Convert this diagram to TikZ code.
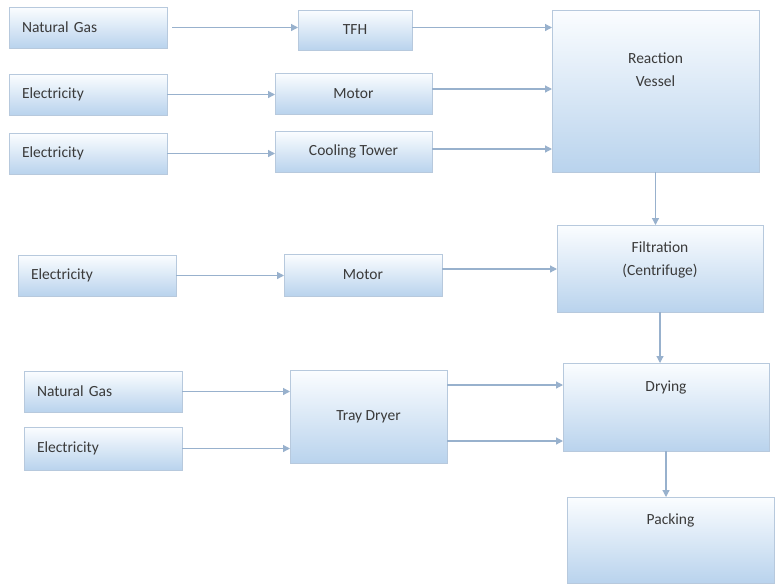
\documentclass[tikz,border=0pt]{standalone}
\usepackage{fontspec}
\setmainfont{Carlito}
\usetikzlibrary{arrows.meta,calc}
\definecolor{boxline}{HTML}{B7C9DD}
\definecolor{boxtop}{HTML}{FBFDFF}
\definecolor{boxbot}{HTML}{B9D3ED}
\definecolor{arr}{HTML}{98B1CD}
\definecolor{txt}{HTML}{3A3A3A}
\tikzset{
  pbox/.style={draw=boxline, line width=0.8pt, top color=boxtop, bottom color=boxbot,
    anchor=north west, inner sep=0pt, outer sep=0pt, text=txt,
    font=\fontsize{15.5}{23}\selectfont},
  inbox/.style={pbox, minimum width=158pt, minimum height=41pt, text width=132pt, align=left},
  midbox/.style={pbox, minimum width=157pt, minimum height=41pt, align=center},
  bigtext/.style={text=txt, font=\fontsize{15.5}{23}\selectfont, align=center, inner sep=0pt},
  flow/.style={draw=arr, line width=1.2pt, -{Triangle[length=7pt,width=7pt]}}
}
\begin{document}
\begin{tikzpicture}[x=1pt,y=-1pt]
\useasboundingbox[fill=white] (0,0) rectangle (775,584);
% inputs
\node[inbox] (ng1) at (9,7) {Natural Gas};
\node[inbox] (el1) at (9,74) {Electricity};
\node[inbox] (el2) at (9,133) {Electricity};
\node[inbox] (el3) at (18,255) {Electricity};
\node[inbox] (ng2) at (24,371) {Natural Gas};
\node[inbox, minimum height=43pt] (el4) at (24,427) {Electricity};
% middle
\node[pbox, minimum width=114pt, minimum height=40pt] (tfh) at (298,10) {TFH};
\node[midbox] (m1) at (275,73) {Motor};
\node[midbox] (ct) at (275,131) {Cooling Tower};
\node[midbox, minimum width=158pt, minimum height=42pt] (m2) at (284,254) {Motor};
\node[pbox, minimum width=157pt, minimum height=93pt] (td) at (290,370) {Tray Dryer};
% main column
\node[pbox, minimum width=207pt, minimum height=162pt] (rv) at (552,10) {};
\node[bigtext] (rvt) at ($(rv.north)+(0,60)$) {Reaction\\Vessel};
\node[pbox, minimum width=206pt, minimum height=87pt] (filt) at (557,225) {};
\node[bigtext] (filtt) at ($(filt.north)+(0,35)$) {Filtration\\(Centrifuge)};
\node[pbox, minimum width=206pt, minimum height=88pt] (dry) at (563,363) {};
\node[bigtext] (dryt) at ($(dry.north)+(0,24)$) {Drying};
\node[pbox, minimum width=207pt, minimum height=86pt] (pack) at (567,497) {};
\node[bigtext] (packt) at ($(pack.north)+(0,23)$) {Packing};
% connectors
\draw[flow, shorten <=5pt] (ng1.east) -- (ng1.east -| tfh.west);
\draw[flow] (tfh.east |- ng1.east) -- (ng1.east -| rv.west);
\draw[flow] (el1.east) -- (el1.east -| m1.west);
\draw[flow] (m1.east |- 0,89) -- (rv.west |- 0,89);
\draw[flow] (el2.east) -- (el2.east -| ct.west);
\draw[flow] (ct.east |- 0,149) -- (rv.west |- 0,149);
\draw[flow] (el3.east) -- (el3.east -| m2.west);
\draw[flow] (m2.east |- 0,269) -- (filt.west |- 0,269);
\draw[flow] (ng2.east) -- (ng2.east -| td.west);
\draw[flow] (el4.east) -- (el4.east -| td.west);
\draw[flow] (td.east |- 0,385) -- (dry.west |- 0,385);
\draw[flow] (td.east |- 0,441) -- (dry.west |- 0,441);
\draw[flow] (rv.south) -- (rv.south |- filt.north);
\draw[flow] (filt.south) -- (filt.south |- dry.north);
\draw[flow] (dry.south) -- (dry.south |- pack.north);
\end{tikzpicture}
\end{document}
